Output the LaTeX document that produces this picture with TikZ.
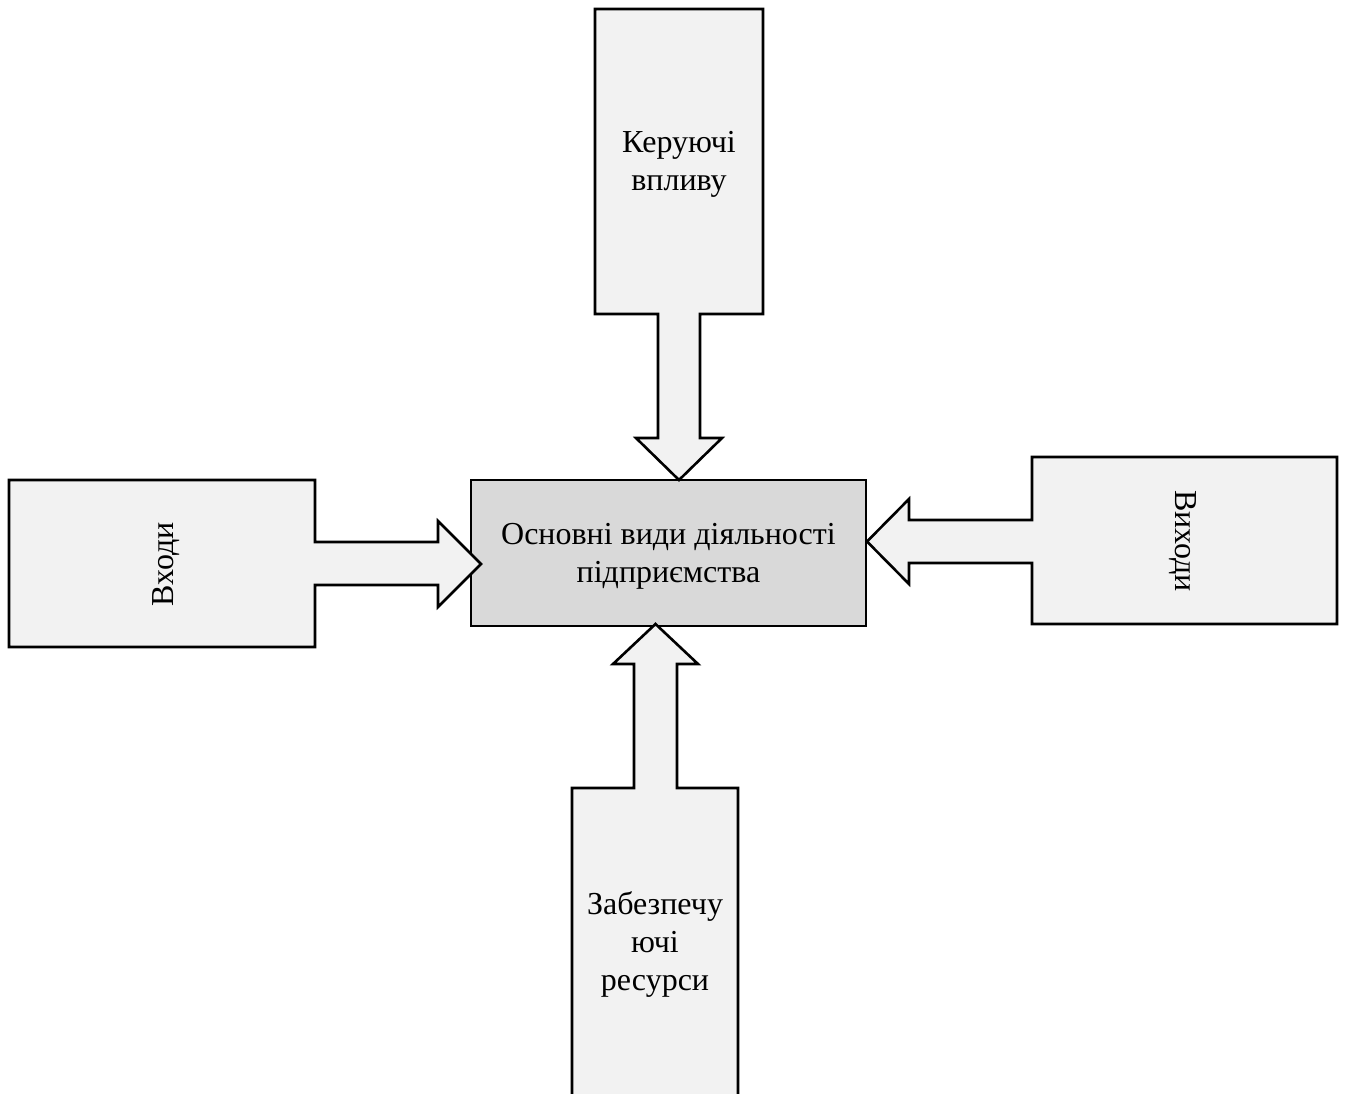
\documentclass[tikz,border=0pt]{standalone}
\usepackage{fontspec}
\setmainfont{Liberation Serif}
\begin{document}
\begin{tikzpicture}[x=1pt,y=-1pt,
  block/.style={draw=black,line width=2.6pt,fill=black!5,line join=miter},
  core/.style={draw=black,line width=2.6pt,fill=black!15},
  label/.style={font=\fontsize{32}{38}\selectfont,align=center,inner sep=0pt}]
\useasboundingbox (0,0) rectangle (1346,1093);
\clip (0,0) rectangle (1346,1093);

% central activity block
\draw[core] (471,480) rectangle (866,626);
\node[label] (core) at (668.5,556) {Основні види діяльності\\підприємства};

% control block with downward arrow
\draw[block] (595,9) -- (763,9) -- (763,314) -- (700,314) -- (700,438) -- (722,438)
  -- (679,480) -- (636,438) -- (658,438) -- (658,314) -- (595,314) -- cycle;
\node[label] (ctrl) at (679,164) {Керуючі\\впливу};

% inputs block with rightward arrow
\draw[block] (9,480) -- (315,480) -- (315,542) -- (438,542) -- (438,521) -- (481,564)
  -- (438,607) -- (438,585) -- (315,585) -- (315,647) -- (9,647) -- cycle;
\node[label,rotate=90] (inp) at (166,564) {Входи};

% outputs block with leftward arrow
\draw[block] (1337,457) -- (1337,624) -- (1032,624) -- (1032,563) -- (909,563) -- (909,584)
  -- (867,541.5) -- (909,499) -- (909,520) -- (1032,520) -- (1032,457) -- cycle;
\node[label,rotate=-90] (outp) at (1183,541) {Виходи};

% resources block with upward arrow
\draw[block] (572,1120) -- (572,788) -- (634,788) -- (634,664) -- (613,664) -- (655.5,624)
  -- (698,664) -- (677,664) -- (677,788) -- (738,788) -- (738,1120) -- cycle;
\node[label] (res) at (655,944) {Забезпечу\\ючі\\ресурси};
\end{tikzpicture}
\end{document}
